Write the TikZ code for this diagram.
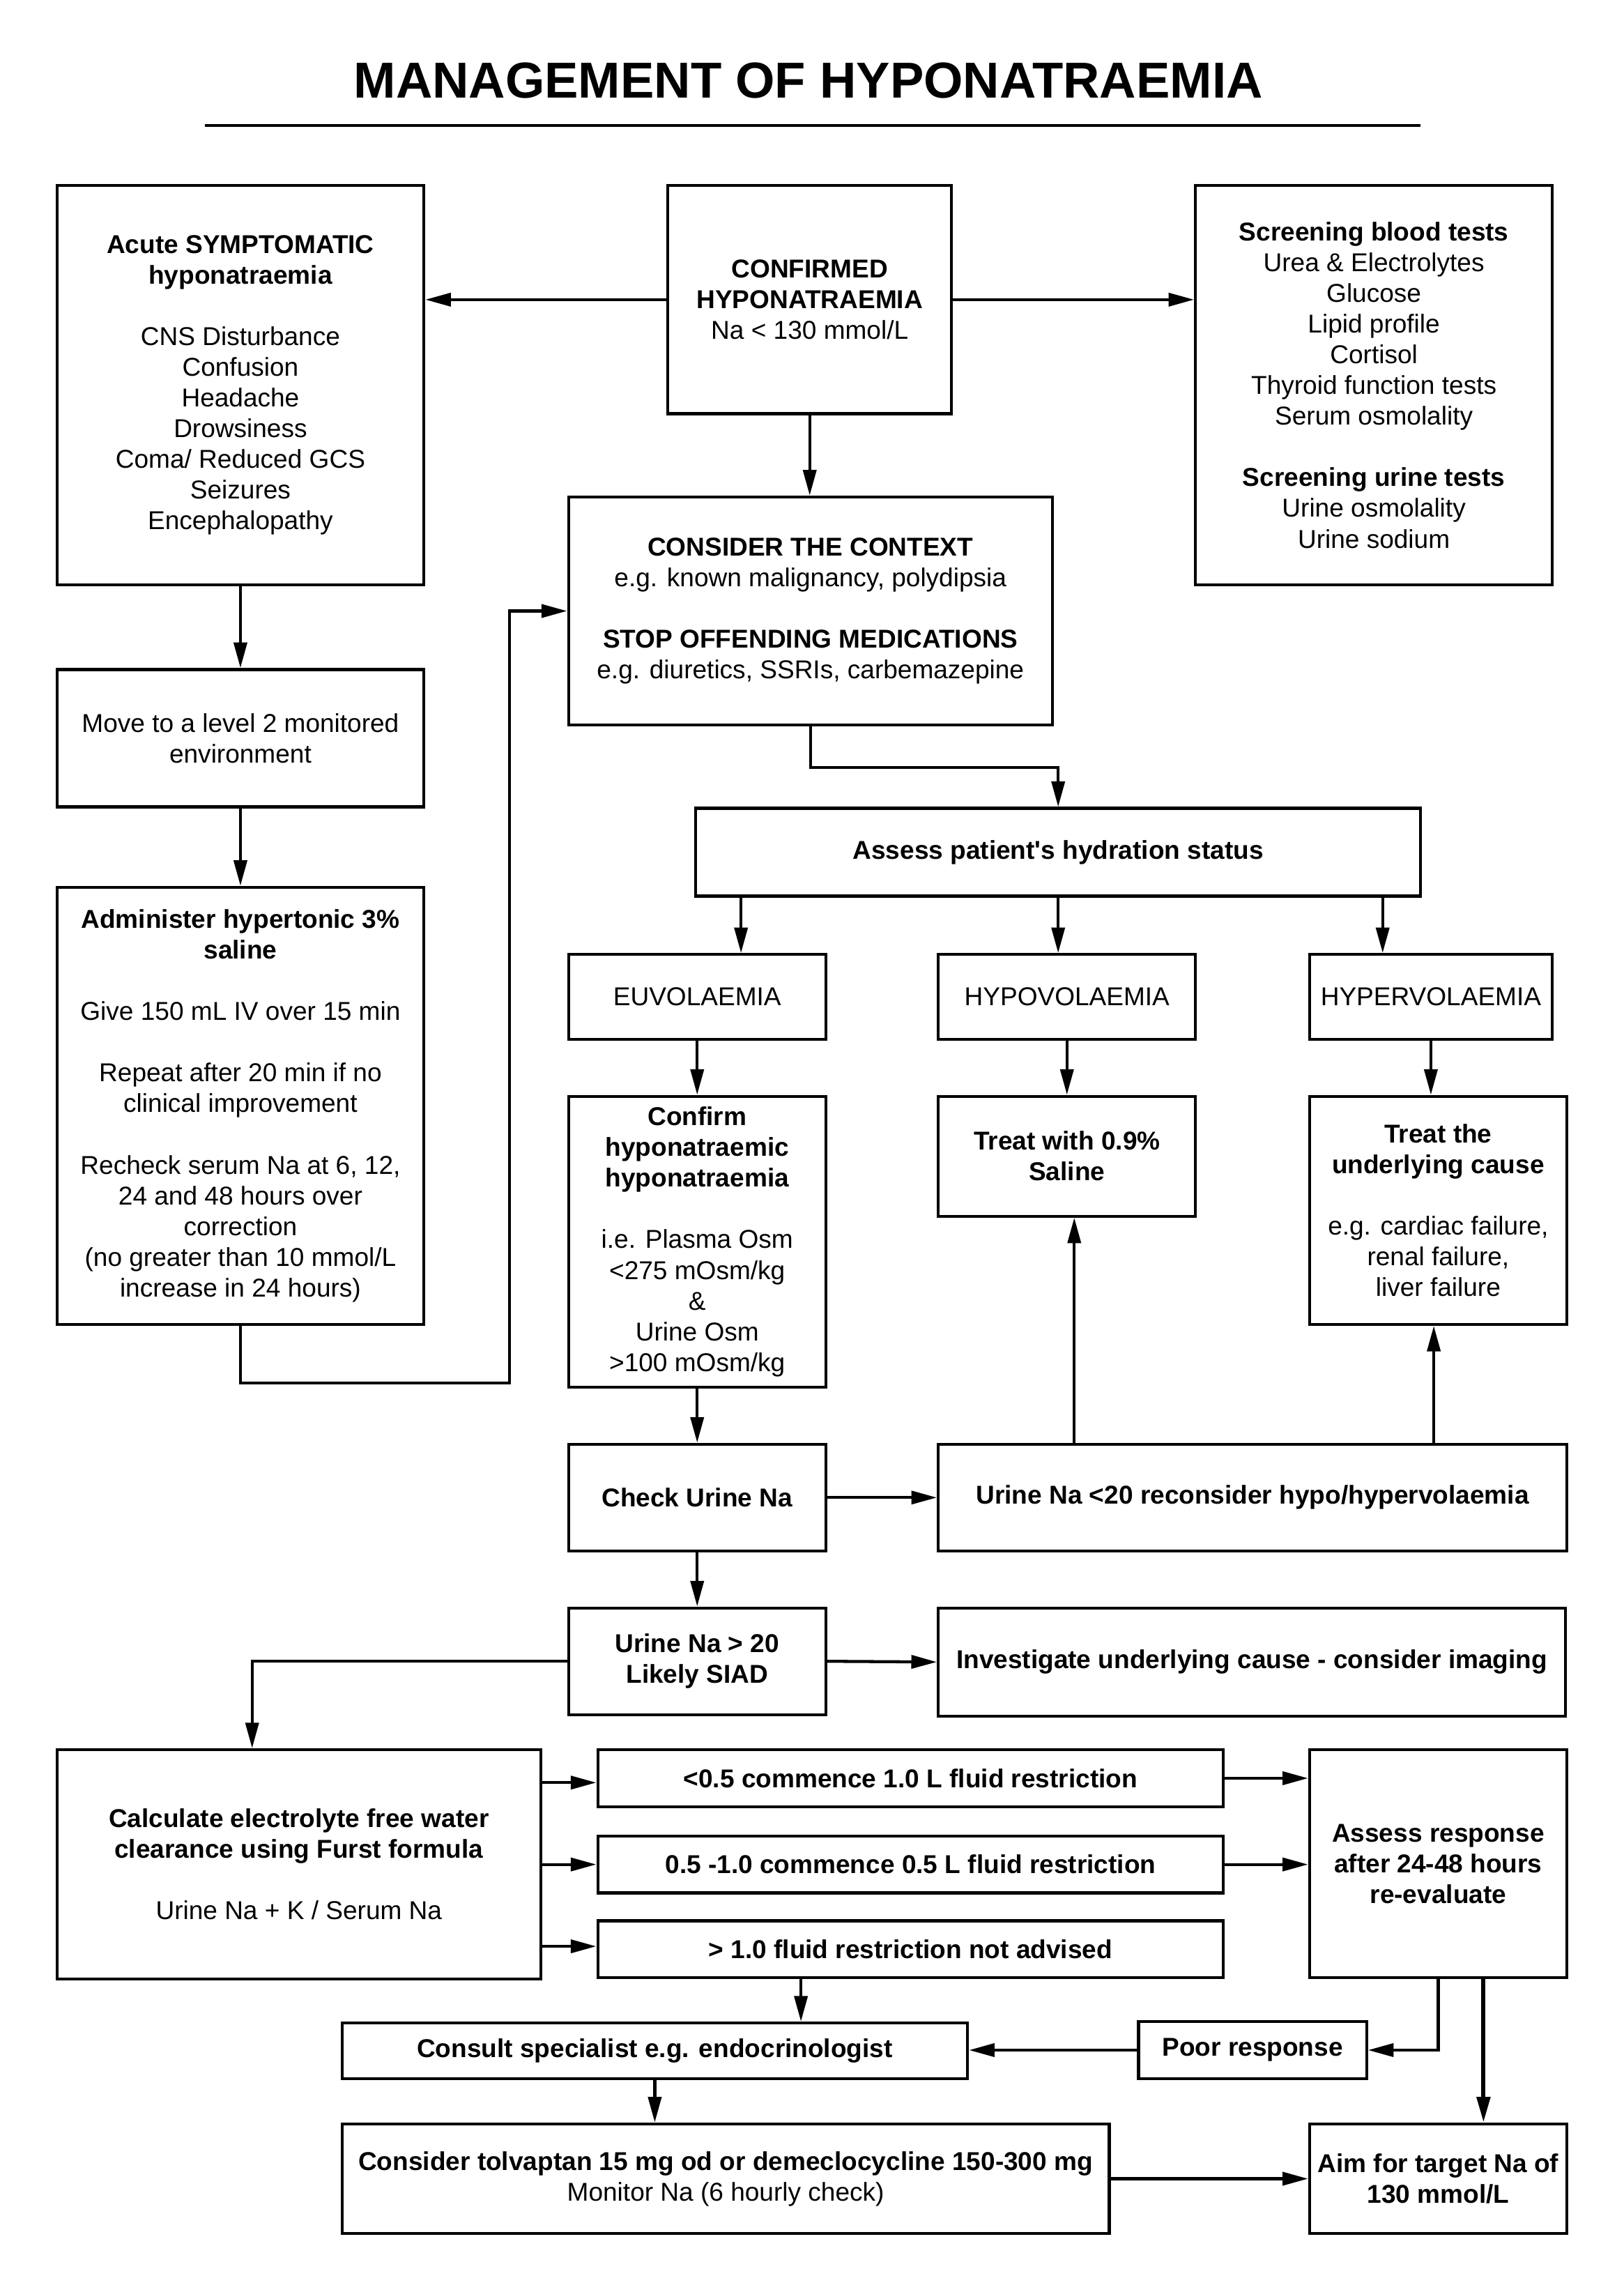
\documentclass[tikz,border=0pt]{standalone}
\usepackage{fontspec}
\setmainfont{Liberation Sans}
\usetikzlibrary{arrows.meta}
\newcommand\px{0.018902cm}
\tikzset{
  box/.style 2 args={draw, line width=1.1pt, align=center, inner sep=1pt,
    minimum width=#1*\px, minimum height=#2*\px,
    font=\fontsize{9.5}{11.3}\selectfont},
  arr/.style={-{Triangle[length=3.3mm,width=1.7mm]}, line width=1.1pt},
}
\begin{document}
\begin{tikzpicture}[x=0.018902cm, y=-0.018902cm]
  \useasboundingbox (0,0) rectangle (1111,1568);
  % title
  \node[font=\fontsize{18.6}{21}\selectfont\bfseries] (title) at (553,55) {MANAGEMENT OF HYPONATRAEMIA};
  \draw[line width=1.1pt] (140,86) -- (972,86);
  % top row
  \node[box={251}{273}] (acute) at (164.5,263.5) {\bfseries Acute SYMPTOMATIC\\ \bfseries hyponatraemia\\[11.3pt]
    CNS Disturbance\\ Confusion\\ Headache\\ Drowsiness\\ Coma/ Reduced GCS\\ Seizures\\ Encephalopathy};
  \node[box={194}{156}] (confirmed) at (554,205) {\bfseries CONFIRMED\\ \bfseries HYPONATRAEMIA\\ Na < 130 mmol/L};
  \node[box={244}{273}] (screening) at (940,263.5) {\bfseries Screening blood tests\\ Urea \& Electrolytes\\ Glucose\\
    Lipid profile\\ Cortisol\\ Thyroid function tests\\ Serum osmolality\\[11.3pt]
    \bfseries Screening urine tests\\ Urine osmolality\\ Urine sodium};
  \node[box={331}{156}] (context) at (554.5,418) {\bfseries CONSIDER THE CONTEXT\\ e.g. known malignancy, polydipsia\\[11.3pt]
    \bfseries STOP OFFENDING MEDICATIONS\\ e.g. diuretics, SSRIs, carbemazepine};
  % acute branch
  \node[box={251}{94}] (level2) at (164.5,505) {Move to a level 2 monitored\\ environment};
  \node[box={251}{299}] (hypertonic) at (164.5,756.5) {\bfseries Administer hypertonic 3\%\\ \bfseries saline\\[11.3pt]
    Give 150 mL IV over 15 min\\[11.3pt]
    Repeat after 20 min if no\\ clinical improvement\\[11.3pt]
    Recheck serum Na at 6, 12,\\ 24 and 48 hours over\\ correction\\ (no greater than 10 mmol/L\\ increase in 24 hours)};
  % hydration
  \node[box={496}{60}] (hydration) at (724,583) {\bfseries Assess patient\textquotesingle s hydration status};
  \node[box={176}{58}] (euvol) at (477,682) {EUVOLAEMIA};
  \node[box={176}{58}] (hypovol) at (730,682) {HYPOVOLAEMIA};
  \node[box={166}{58}] (hypervol) at (979,682) {HYPERVOLAEMIA};
  \node[box={176}{199}] (confirm) at (477,849.5) {\bfseries Confirm\\ \bfseries hyponatraemic\\ \bfseries hyponatraemia\\[11.3pt]
    i.e. Plasma Osm\\ <275 mOsm/kg\\ \&\\ Urine Osm\\ >100 mOsm/kg};
  \node[box={176}{82}] (treatsaline) at (730,791) {\bfseries Treat with 0.9\%\\ \bfseries Saline};
  \node[box={176}{156}] (treatcause) at (984,828) {\bfseries Treat the\\ \bfseries underlying cause\\[11.3pt]
    e.g. cardiac failure,\\ renal failure,\\ liver failure};
  % urine sodium
  \node[box={176}{73}] (checkna) at (477,1024.5) {\bfseries Check Urine Na};
  \node[box={430}{73}] (urinelow) at (857,1024.5) {\bfseries Urine Na <20 reconsider hypo/hypervolaemia};
  \node[box={176}{73}] (siad) at (477,1136.5) {\bfseries Urine Na > 20\\ \bfseries Likely SIAD};
  \node[box={429}{74}] (investigate) at (856.5,1137) {\bfseries Investigate underlying cause - consider imaging};
  % fluid restriction
  \node[box={331}{157}] (furst) at (204.5,1275.5) {\bfseries Calculate electrolyte free water\\ \bfseries clearance using Furst formula\\[11.3pt]
    Urine Na + K / Serum Na};
  \node[box={428}{39}] (restrictA) at (623,1216.5) {\bfseries <0.5 commence 1.0 L fluid restriction};
  \node[box={428}{39}] (restrictB) at (623,1275.5) {\bfseries 0.5 -1.0 commence 0.5 L fluid restriction};
  \node[box={428}{39}] (restrictC) at (623,1333.5) {\bfseries > 1.0 fluid restriction not advised};
  \node[box={176}{156}] (assess) at (984,1275) {\bfseries Assess response\\ \bfseries after 24-48 hours\\ \bfseries re-evaluate};
  \node[box={428}{38}] (consult) at (448,1403) {\bfseries Consult specialist e.g. endocrinologist};
  \node[box={156}{39}] (poor) at (857,1402.5) {\bfseries Poor response};
  \node[box={525}{75}] (tolvaptan) at (496.5,1490.5) {\bfseries Consider tolvaptan 15 mg od or demeclocycline 150-300 mg\\ Monitor Na (6 hourly check)};
  \node[box={176}{75}] (aim) at (984,1490.5) {\bfseries Aim for target Na of\\ \bfseries 130 mmol/L};

  % connectors
  \draw[arr] (confirmed.west) -- (confirmed.west -| acute.east);
  \draw[arr] (confirmed.east) -- (confirmed.east -| screening.west);
  \draw[arr] (confirmed.south) -- (confirmed.south |- context.north);
  \draw[arr] (acute.south) -- (level2.north);
  \draw[arr] (level2.south) -- (hypertonic.north);
  \draw[arr] (hypertonic.south) -- ++(0,39) -- ++(184,0) |- (context.west);
  \draw[arr] (context.south) -- ++(0,28) -| (hydration.north);
  \draw[arr] ([xshift=-217*\px]hydration.south) -- ([xshift=30*\px]euvol.north);
  \draw[arr] (hydration.south) -- (hydration.south |- hypovol.north);
  \draw[arr] ([xshift=222*\px]hydration.south) -- ([xshift=-33*\px]hypervol.north);
  \draw[arr] (euvol.south) -- (confirm.north);
  \draw[arr] (hypovol.south) -- (treatsaline.north);
  \draw[arr] (hypervol.south) -- (hypervol.south |- treatcause.north);
  \draw[arr] (confirm.south) -- (checkna.north);
  \draw[arr] (checkna.east) -- (urinelow.west);
  \draw[arr] ([xshift=5*\px]urinelow.north -| treatsaline.south) -- ([xshift=5*\px]treatsaline.south);
  \draw[arr] ([xshift=-3*\px]urinelow.north -| treatcause.south) -- ([xshift=-3*\px]treatcause.south);
  \draw[arr] (checkna.south) -- (siad.north);
  \draw[arr] (siad.east) -- (investigate.west);
  \draw[arr] (siad.west) -| ([xshift=-32*\px]furst.north);
  \draw[arr] ([yshift=-3*\px]furst.east |- restrictA.west) -- ([yshift=-3*\px]restrictA.west);
  \draw[arr] (furst.east |- restrictB.west) -- (restrictB.west);
  \draw[arr] ([yshift=2*\px]furst.east |- restrictC.west) -- ([yshift=2*\px]restrictC.west);
  \draw[arr] (restrictA.east) -- (restrictA.east -| assess.west);
  \draw[arr] (restrictB.east) -- (restrictB.east -| assess.west);
  \draw[arr] ([xshift=-75*\px]restrictC.south) -- ([xshift=100*\px]consult.north);
  \draw[arr] (poor.west) -- (poor.west -| consult.east);
  \draw[arr] (assess.south) |- (poor.east);
  \draw[arr, line width=1.5pt] ([xshift=31*\px]assess.south) -- ([xshift=31*\px]aim.north);
  \draw[arr] (consult.south) -- (consult.south |- tolvaptan.north);
  \draw[arr] (tolvaptan.east) -- (tolvaptan.east -| aim.west);
\end{tikzpicture}
\end{document}
